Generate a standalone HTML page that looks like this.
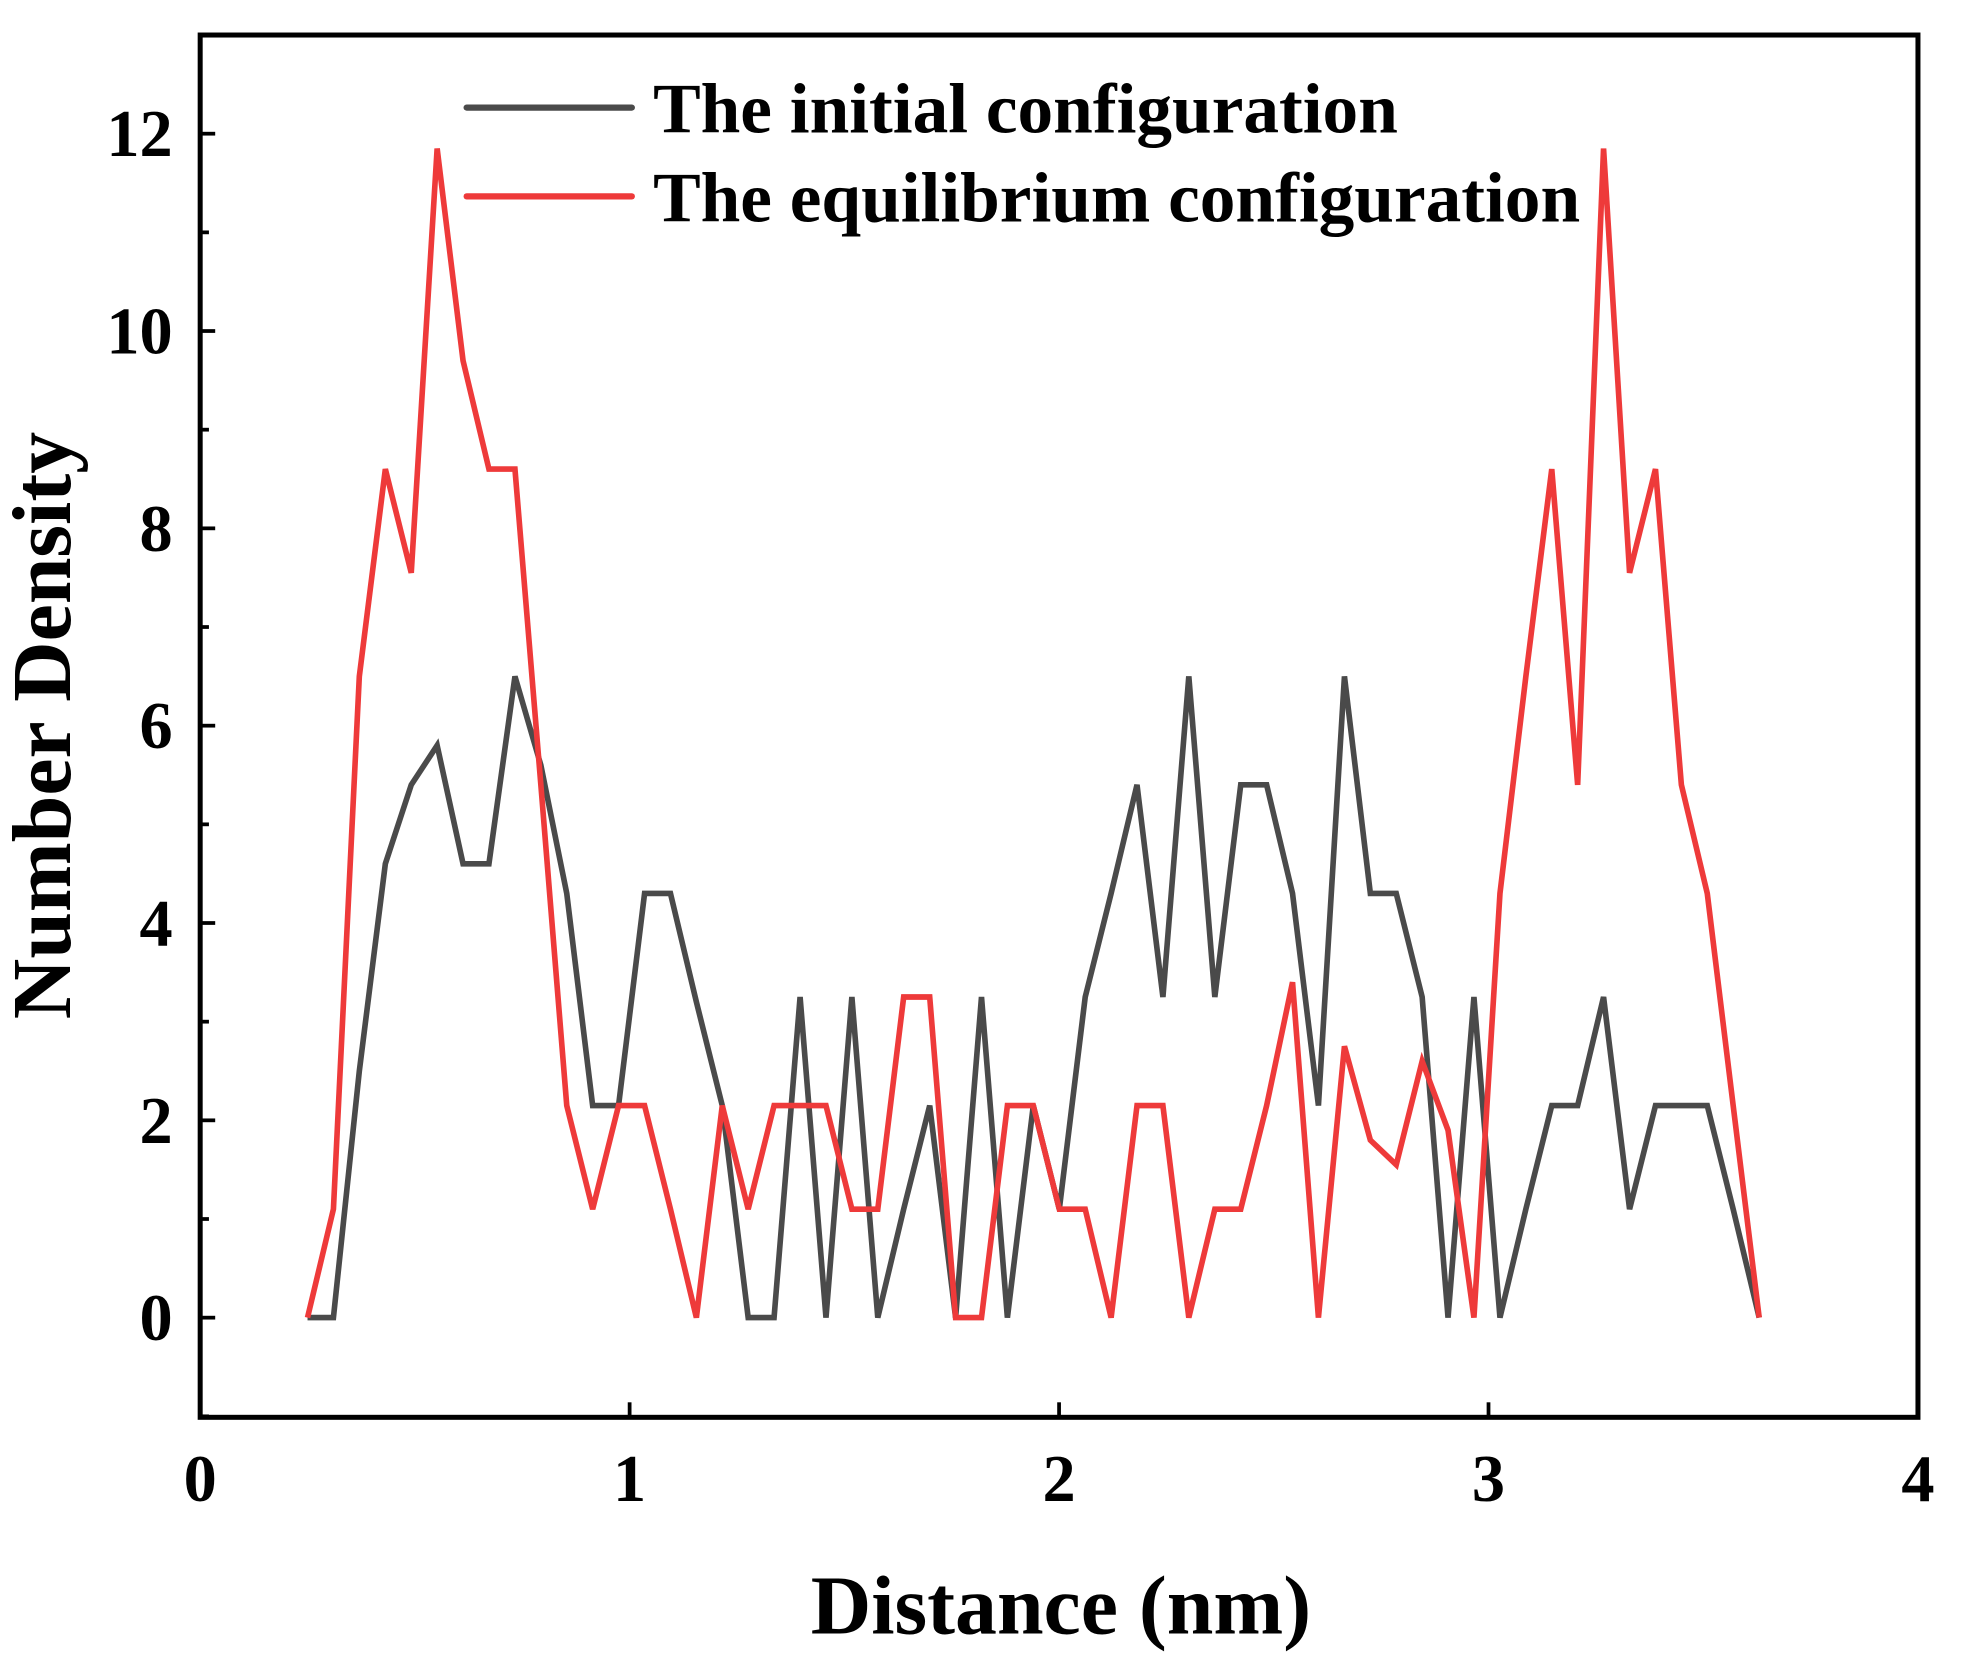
<!DOCTYPE html>
<html><head><meta charset="utf-8"><style>html,body{margin:0;padding:0;background:#fff}svg{display:block}</style></head>
<body>
<svg id="chart" width="1963" height="1665" viewBox="0 0 1569 1331" preserveAspectRatio="none" xmlns="http://www.w3.org/2000/svg" font-family="'Liberation Serif', serif" font-weight="bold"></svg>
<script>
const initialValues=[0,0,2.5,4.6,5.4,5.8,4.6,4.6,6.5,5.6,4.3,2.15,2.15,4.3,4.3,3.2,2.15,0,0,3.25,0,3.25,0,1.1,2.15,0,3.25,0,2.15,1.1,3.25,4.3,5.4,3.25,6.5,3.25,5.4,5.4,4.3,2.15,6.5,4.3,4.3,3.25,0,3.25,0,1.1,2.15,2.15,3.25,1.1,2.15,2.15,2.15,1.1,0];
const equilibriumValues=[0,1.1,6.5,8.6,7.55,11.85,9.7,8.6,8.6,5.4,2.15,1.1,2.15,2.15,1.1,0,2.15,1.1,2.15,2.15,2.15,1.1,1.1,3.25,3.25,0,0,2.15,2.15,1.1,1.1,0,2.15,2.15,0,1.1,1.1,2.15,3.4,0,2.75,1.8,1.55,2.6,1.9,0,4.3,6.5,8.6,5.4,11.85,7.55,8.6,5.4,4.3,2.15,0];
const xStart=0.25, xStep=0.06036;
const xTicks=[0,1,2,3,4];
const yTicks=[0,2,4,6,8,10,12];
const yMinor=[-1,1,3,5,7,9,11];
const NS="http://www.w3.org/2000/svg";
const svg=document.getElementById('chart');
const L=160,R=1533,T=28,B=1133;
const sx=v=>L+(v-0)/4*(R-L);
const sy=v=>B-(v-(-1.01))/(13.0+1.01)*(B-T);
function mk(tag,attrs,parent){const e=document.createElementNS(NS,tag);for(const k in attrs)e.setAttribute(k,attrs[k]);(parent||svg).appendChild(e);return e;}
function series(vals,color,name){
  const pts=vals.map((v,i)=>sx(xStart+i*xStep).toFixed(1)+','+sy(v).toFixed(1)).join(' ');
  const p=mk('polyline',{points:pts,fill:'none',stroke:color,'stroke-width':4.5,'stroke-linejoin':'miter'});
  
  
}
series(initialValues,'#4a4a4a','initial-series-line');
series(equilibriumValues,'#ee3a3a','equilibrium-series-line');
const frame=mk('rect',{x:L,y:T,width:R-L,height:B-T,fill:'none',stroke:'#000','stroke-width':4});


yTicks.forEach(v=>{
  mk('line',{x1:L,x2:L+12,y1:sy(v),y2:sy(v),stroke:'#000','stroke-width':3});
  const t=mk('text',{x:138,y:sy(v)+18,'text-anchor':'end','font-size':53});
  t.textContent=v;
  
  
});
yMinor.forEach(v=>{mk('line',{x1:L,x2:L+7,y1:sy(v),y2:sy(v),stroke:'#000','stroke-width':3});});
xTicks.forEach(v=>{
  mk('line',{x1:sx(v),x2:sx(v),y1:B,y2:B-12,stroke:'#000','stroke-width':3});
  const t=mk('text',{x:sx(v),y:1200,'text-anchor':'middle','font-size':53});
  t.textContent=v;
  
  
});
const xt=mk('text',{x:848,y:1306,'text-anchor':'middle','font-size':67});
xt.textContent='Distance (nm)';


const yt=mk('text',{x:0,y:0,'text-anchor':'middle','font-size':67,transform:'translate(56,580) rotate(-90)'});
yt.textContent='Number Density';


[['The initial configuration','#4a4a4a',86,'legend-entry-initial'],['The equilibrium configuration','#ee3a3a',157,'legend-entry-equilibrium']].forEach(([lab,c,y,n])=>{
  const g=mk('g',{});
  
  
  mk('line',{x1:373,x2:505,y1:y,y2:y,stroke:c,'stroke-width':5,'stroke-linecap':'round'},g);
  const t=mk('text',{x:522,y:y+20,'font-size':57},g);
  t.textContent=lab;
});
</script>
</body></html>
